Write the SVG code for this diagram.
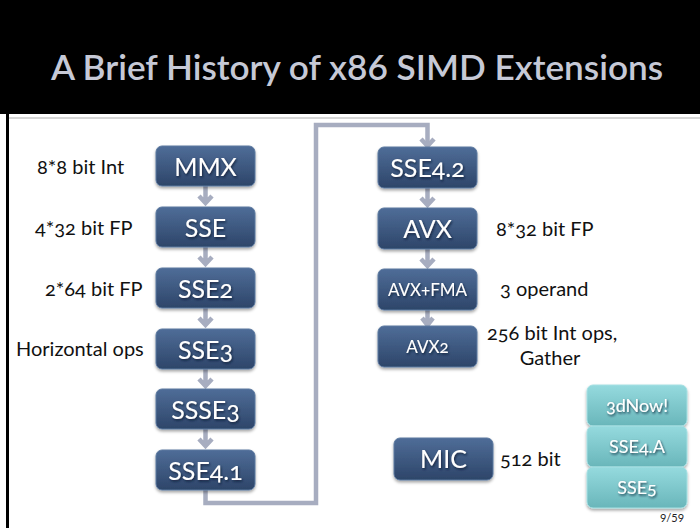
<svg xmlns="http://www.w3.org/2000/svg" width="700" height="528" viewBox="0 0 700 528">
  <defs>
    <linearGradient id="gBlue" x1="0" y1="0" x2="0" y2="1">
      <stop offset="0" stop-color="#4f6d98"/>
      <stop offset="1" stop-color="#2d4569"/>
    </linearGradient>
    <linearGradient id="gTeal" x1="0" y1="0" x2="0" y2="1">
      <stop offset="0" stop-color="#95dade"/>
      <stop offset="1" stop-color="#69b6ba"/>
    </linearGradient>
    <filter id="shadow" x="-10%" y="-10%" width="130%" height="140%">
      <feDropShadow dx="0" dy="2" stdDeviation="1.5" flood-color="#000" flood-opacity="0.35"/>
    </filter>
    <filter id="tshadow" x="-10%" y="-20%" width="130%" height="160%">
      <feDropShadow dx="1" dy="1.5" stdDeviation="1" flood-color="#0b1a30" flood-opacity="0.8"/>
    </filter>
    <!-- short chevron arrow, origin at the bottom of the upper box -->
    <path id="arr" d="M0,0 V17 M-6.5,10 L0,17 L6.5,10"/>
  </defs>
  <style>
    .box { fill: url(#gBlue); stroke: #5b789f; stroke-width: 1; filter: url(#shadow); }
    .tbox { fill: url(#gTeal); stroke: #a6e0e3; stroke-width: 1; filter: url(#shadow); }
    .bt { font-family: Lato, "Noto Sans", sans-serif; fill: #ffffff; text-anchor: middle; font-size: 25px; font-variant-numeric: oldstyle-nums; filter: url(#tshadow); }
    .bs { font-size: 17px; }
    .ts { font-size: 18px; }
    .lbl { font-family: Lato, "Noto Sans", sans-serif; fill: #111111; font-size: 20px; font-variant-numeric: oldstyle-nums; }
    .conn { fill: none; stroke: #a7adc0; stroke-width: 4.5; }
  </style>

  <!-- page frame -->
  <rect x="0" y="0" width="700" height="528" fill="#ffffff"/>
  <rect x="0" y="0" width="700" height="114" fill="#000000"/>
  <rect x="6" y="114" width="3" height="414" fill="#000000"/>
  <line x1="9" y1="118" x2="700" y2="118" stroke="#c9c9c9" stroke-width="1.5"/>
  <text x="357" y="80" text-anchor="middle" font-family="Lato, 'Noto Sans', sans-serif" font-weight="600" font-size="35.2" fill="#c6c9d6">A Brief History of x86 SIMD Extensions</text>

  <!-- connectors -->
  <g id="connectors" class="conn">
    <use href="#arr" x="205.5" y="186"/>
    <use href="#arr" x="205.5" y="247"/>
    <use href="#arr" x="205.5" y="308"/>
    <use href="#arr" x="205.5" y="369"/>
    <use href="#arr" x="205.5" y="429"/>
    <path d="M205.5,490 V503 H316 V125 H427.5 V146"/>
    <path d="M421,139 L427.5,146 L434,139"/>
    <use href="#arr" x="427.5" y="188"/>
    <use href="#arr" x="427.5" y="249"/>
    <path d="M427.5,310 V325 M422,318 L427.5,325 L433,318"/>
  </g>

  <!-- left column -->
  <g id="mmx"><rect class="box" x="156" y="146" width="99" height="40" rx="6"/><text class="bt" x="205.5" y="176">MMX</text></g>
  <g id="sse"><rect class="box" x="156" y="207" width="99" height="40" rx="6"/><text class="bt" x="205.5" y="237">SSE</text></g>
  <g id="sse2"><rect class="box" x="156" y="268" width="99" height="40" rx="6"/><text class="bt" x="205.5" y="298">SSE2</text></g>
  <g id="sse3"><rect class="box" x="156" y="329" width="99" height="40" rx="6"/><text class="bt" x="205.5" y="359">SSE3</text></g>
  <g id="ssse3"><rect class="box" x="156" y="389" width="99" height="40" rx="6"/><text class="bt" x="205.5" y="419">SSSE3</text></g>
  <g id="sse41"><rect class="box" x="156" y="450" width="99" height="40" rx="6"/><text class="bt" x="205.5" y="480">SSE4.1</text></g>

  <!-- right column -->
  <g id="sse42"><rect class="box" x="378" y="147" width="99" height="41" rx="6"/><text class="bt" x="427.5" y="177">SSE4.2</text></g>
  <g id="avx"><rect class="box" x="378" y="208" width="99" height="41" rx="6"/><text class="bt" x="427.5" y="238">AVX</text></g>
  <g id="avxfma"><rect class="box" x="378" y="269" width="99" height="41" rx="6"/><text class="bt bs" x="427.5" y="296">AVX+FMA</text></g>
  <g id="avx2"><rect class="box" x="378" y="326" width="99" height="41" rx="6"/><text class="bt bs" x="427.5" y="353">AVX2</text></g>
  <g id="mic"><rect class="box" x="394" y="438" width="99" height="42" rx="6"/><text class="bt" x="443.5" y="468">MIC</text></g>

  <!-- vendor extensions -->
  <g id="3dnow"><rect class="tbox" x="587" y="385" width="100" height="41" rx="6"/><text class="bt ts" x="637" y="412">3dNow!</text></g>
  <g id="sse4a"><rect class="tbox" x="587" y="426" width="100" height="41" rx="6"/><text class="bt ts" x="637" y="453">SSE4.A</text></g>
  <g id="sse5"><rect class="tbox" x="587" y="467" width="100" height="41" rx="6"/><text class="bt ts" x="637" y="494">SSE5</text></g>

  <!-- descriptions -->
  <g id="labels">
    <text class="lbl" x="37" y="174">8*8 bit Int</text>
    <text class="lbl" x="35" y="235">4*32 bit FP</text>
    <text class="lbl" x="45" y="296">2*64 bit FP</text>
    <text class="lbl" x="16" y="356">Horizontal ops</text>
    <text class="lbl" x="496" y="236">8*32 bit FP</text>
    <text class="lbl" x="500" y="296">3 operand</text>
    <text class="lbl" x="487" y="340">256 bit Int ops,</text>
    <text class="lbl" x="550" y="365" text-anchor="middle">Gather</text>
    <text class="lbl" x="500" y="466">512 bit</text>
  </g>
  <text x="672" y="522" font-family="Lato, 'Noto Sans', sans-serif" font-size="11" fill="#222" text-anchor="middle">9/59</text>
</svg>
